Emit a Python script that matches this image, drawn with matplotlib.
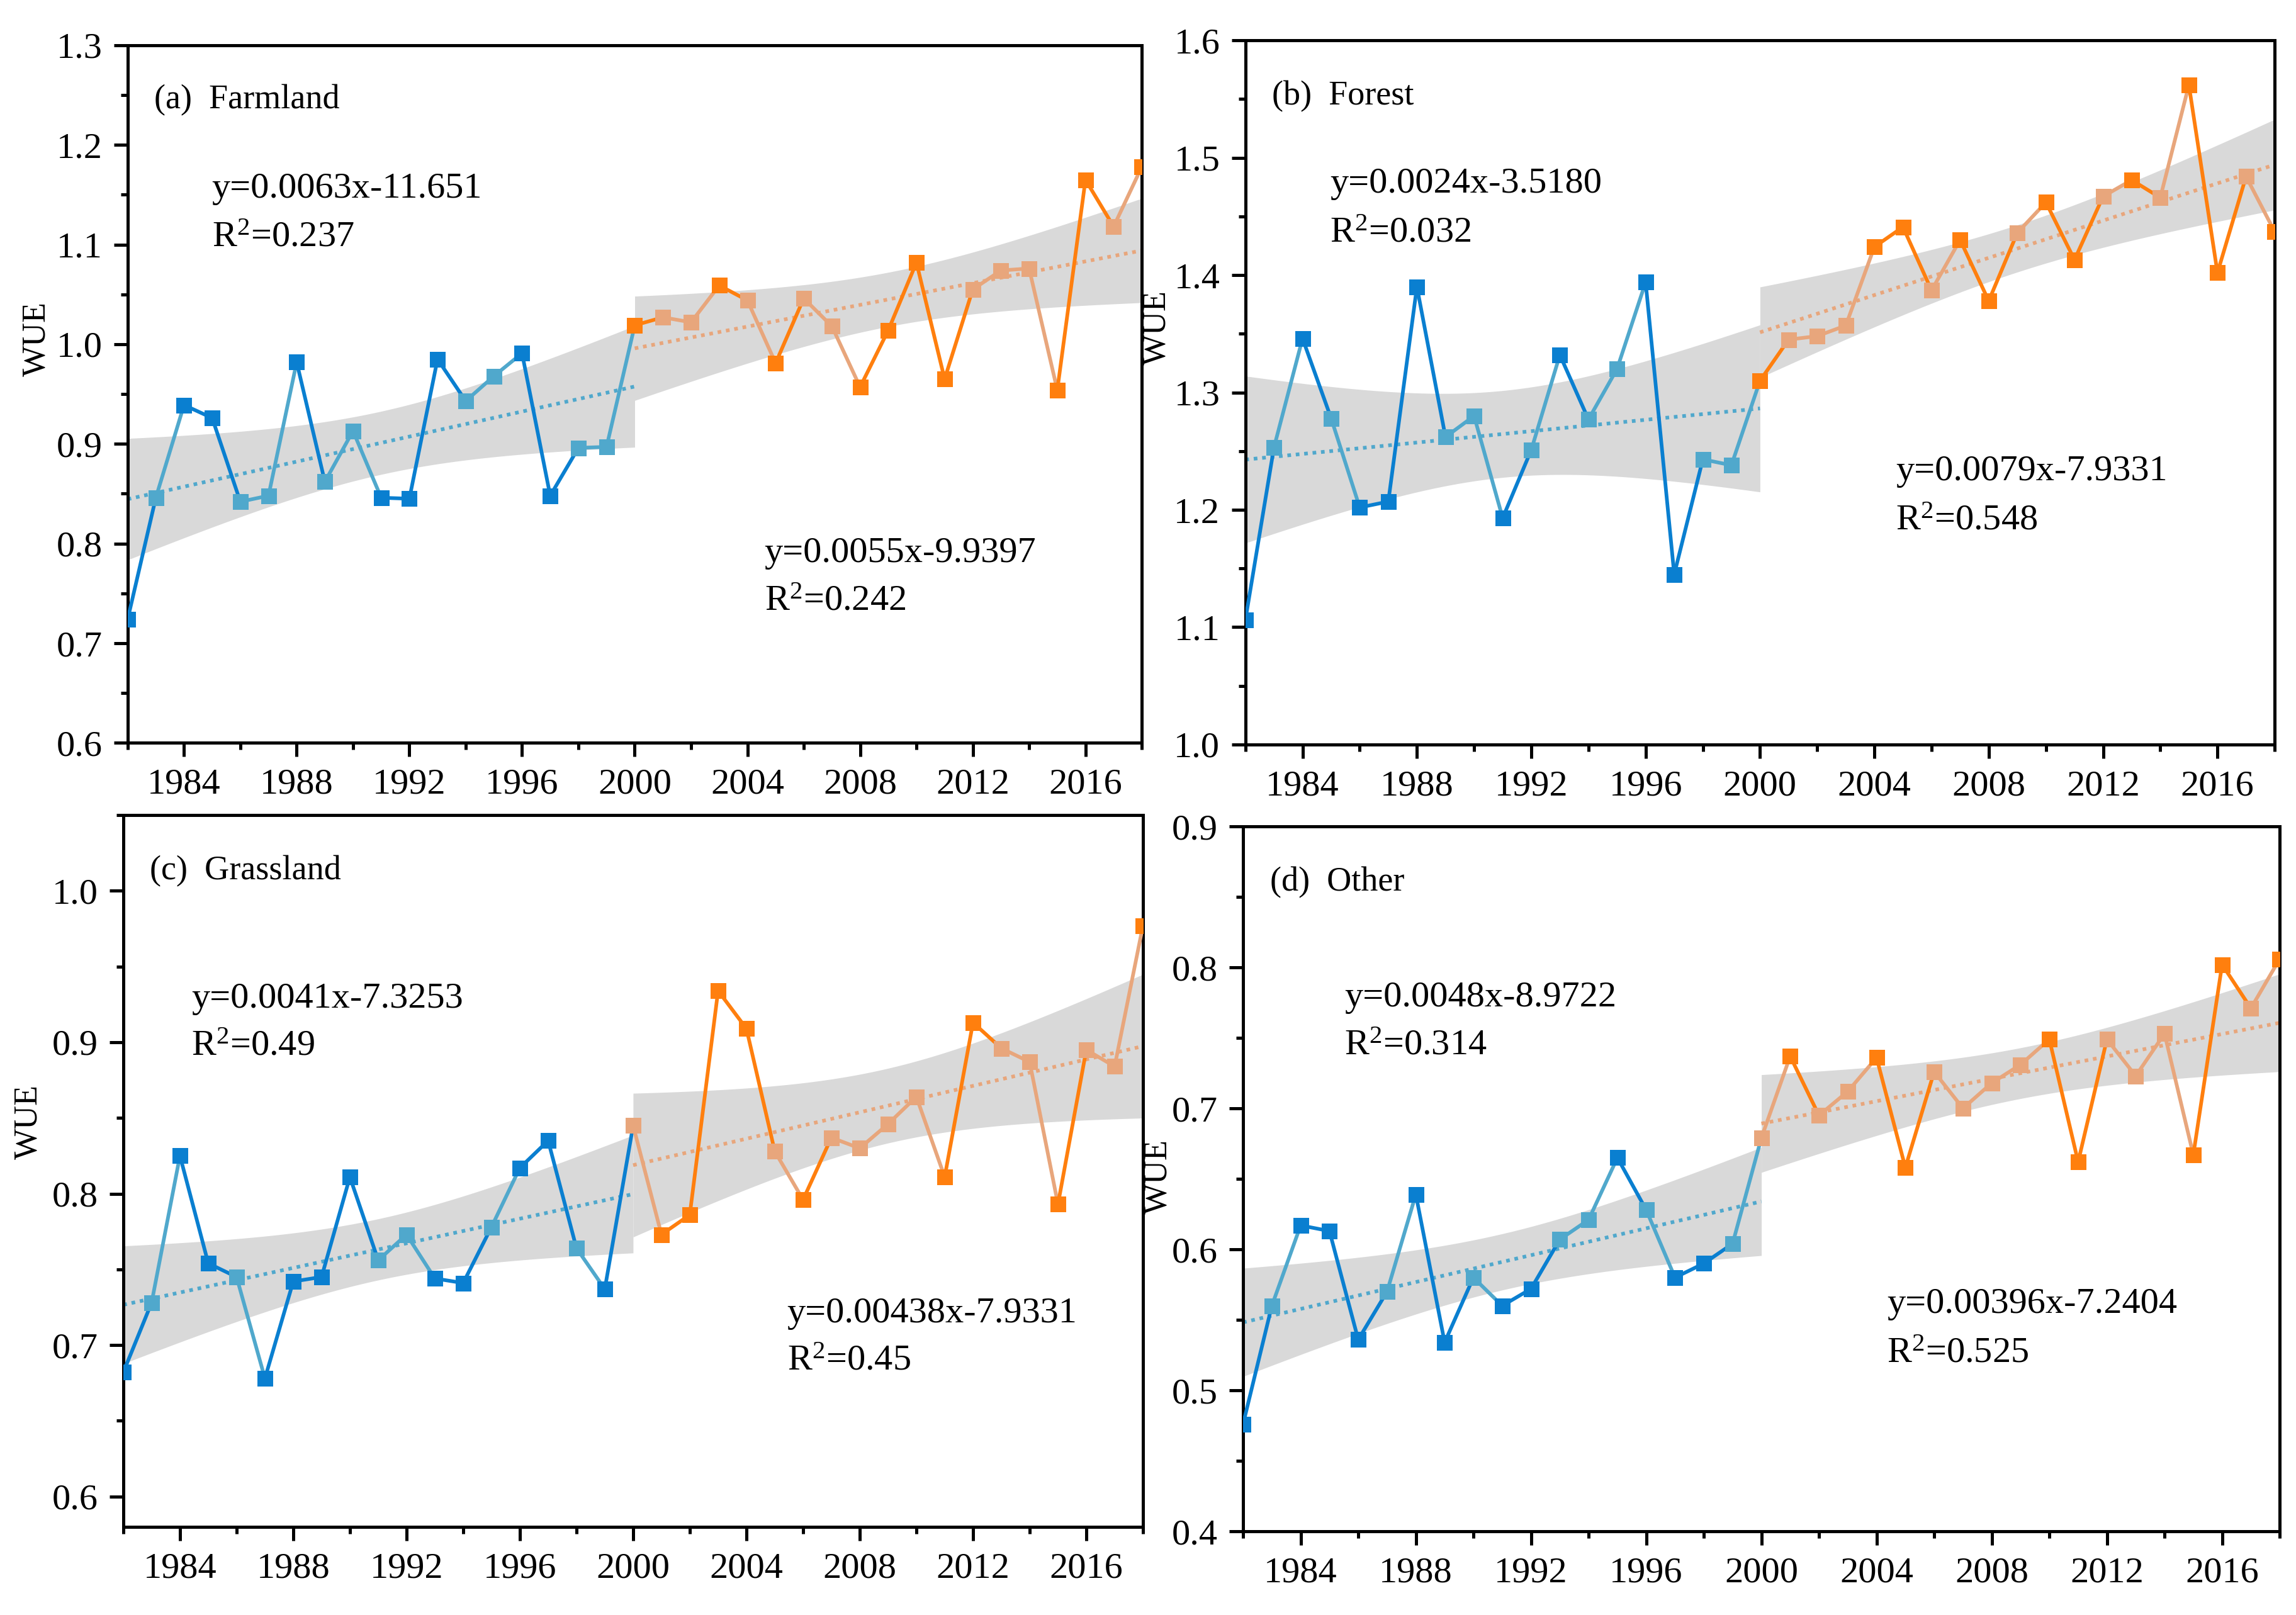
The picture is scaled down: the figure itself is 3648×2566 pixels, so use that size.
import numpy as np
import matplotlib.pyplot as plt
from matplotlib.ticker import MultipleLocator

plt.rcParams['font.family'] = ['Liberation Serif', 'DejaVu Serif']
plt.rcParams['mathtext.fontset'] = 'custom'
plt.rcParams['mathtext.rm'] = 'Liberation Serif'
plt.rcParams['mathtext.it'] = 'Liberation Serif:italic'

years = list(range(1982, 2019))

# WUE per land type, 1982-2018
farm = [0.724, 0.846, 0.939, 0.926, 0.842, 0.848, 0.982, 0.862, 0.913, 0.846,
        0.845, 0.985, 0.943, 0.968, 0.991, 0.848, 0.896, 0.897, 1.019, 1.027,
        1.022, 1.059, 1.044, 0.981, 1.046, 1.018, 0.957, 1.014, 1.082, 0.965,
        1.055, 1.074, 1.076, 0.954, 1.165, 1.118, 1.178]
forest = [1.106, 1.253, 1.346, 1.278, 1.202, 1.207, 1.390, 1.262, 1.280, 1.193,
          1.251, 1.332, 1.277, 1.320, 1.394, 1.145, 1.243, 1.238, 1.310, 1.345,
          1.348, 1.357, 1.424, 1.441, 1.387, 1.430, 1.378, 1.436, 1.462, 1.413,
          1.467, 1.481, 1.466, 1.562, 1.402, 1.484, 1.437]
grass = [0.682, 0.728, 0.825, 0.754, 0.745, 0.678, 0.742, 0.745, 0.811, 0.756,
         0.773, 0.744, 0.741, 0.778, 0.817, 0.835, 0.764, 0.737, 0.845, 0.773,
         0.786, 0.934, 0.909, 0.828, 0.796, 0.837, 0.830, 0.846, 0.864, 0.811,
         0.913, 0.896, 0.887, 0.793, 0.895, 0.884, 0.977]
other = [0.476, 0.560, 0.617, 0.613, 0.536, 0.570, 0.639, 0.534, 0.580, 0.560,
         0.572, 0.607, 0.621, 0.665, 0.628, 0.580, 0.590, 0.604, 0.679, 0.737,
         0.695, 0.712, 0.736, 0.658, 0.726, 0.700, 0.718, 0.731, 0.749, 0.662,
         0.749, 0.723, 0.753, 0.667, 0.802, 0.771, 0.806]

# marker tone per year: d = dark, l = light
farm_tone = "dlddlldlldddllddll" + "dlldldllddddlllddld"
forest_tone = "dldldddlldldllddll" + "dlllddlddlddldlddld"
grass_tone = "dlddlddddllddlddld" + "lddddldllllddlldlld"
other_tone = "dldddlddlddlldlddl" + "ldllddllllddlllddld"

titles = ["(a)  Farmland", "(b)  Forest", "(c)  Grassland", "(d)  Other"]
eq1 = ["y=0.0063x-11.651", "y=0.0024x-3.5180", "y=0.0041x-7.3253", "y=0.0048x-8.9722"]
r1 = ["0.237", "0.032", "0.49", "0.314"]
eq2 = ["y=0.0055x-9.9397", "y=0.0079x-7.9331", "y=0.00438x-7.9331", "y=0.00396x-7.2404"]
r2 = ["0.242", "0.548", "0.45", "0.525"]
ylims = [(0.6, 1.3), (1.0, 1.6), (0.58, 1.05), (0.4, 0.9)]

boxes = [[0.0556, 0.540, 0.4417, 0.432],
         [0.5424, 0.539, 0.4483, 0.436],
         [0.0537, 0.0546, 0.4441, 0.4407],
         [0.5414, 0.0518, 0.4515, 0.4365]]
eq1_pos = [(0.083, 0.794, 0.724), (0.082, 0.796, 0.726), (0.067, 0.742, 0.675), (0.098, 0.757, 0.689)]
eq2_pos = [(0.628, 0.272, 0.203), (0.632, 0.388, 0.318), (0.651, 0.300, 0.233), (0.621, 0.322, 0.252)]
lab_pos = [(-0.075, 0.579), (-0.071, 0.592), (-0.078, 0.569), (-0.067, 0.503)]

blue_d, blue_l = '#0A7FD0', '#50A8CC'
orng_d, orng_l = '#FF7F0E', '#E8A67C'
band = '#D9D9D9'
T95 = 2.11  # t value, df = 17


def fit_band(ax, x, y, col):
    x = np.array(x, float)
    y = np.array(y, float)
    k, b = np.polyfit(x, y, 1)
    n = len(x)
    res = y - (k * x + b)
    s = np.sqrt(np.sum(res ** 2) / (n - 2))
    sxx = np.sum((x - x.mean()) ** 2)
    xx = np.linspace(x.min(), x.max(), 200)
    yy = k * xx + b
    se = s * np.sqrt(1.0 / n + (xx - x.mean()) ** 2 / sxx)
    ax.fill_between(xx, yy - T95 * se, yy + T95 * se, color=band, lw=0, zorder=1)
    ax.plot(xx, yy, ls=(0, (1, 1.3)), color=col, lw=1.4, zorder=2)


series = [farm, forest, grass, other]
tones = [farm_tone, forest_tone, grass_tone, other_tone]

fig = plt.figure(figsize=(3648 / 300, 2566 / 300))

for i in range(4):
    ax = fig.add_axes(boxes[i])
    y = series[i]
    tone = tones[i]

    p1 = [j for j, yr in enumerate(years) if yr <= 2000]
    p2 = [j for j, yr in enumerate(years) if yr >= 2000]
    fit_band(ax, [years[j] for j in p1], [y[j] for j in p1], blue_l)
    fit_band(ax, [years[j] for j in p2], [y[j] for j in p2], orng_l)

    for j in range(len(years) - 1):
        if years[j + 1] <= 2000:
            c = blue_d if tone[j] == 'd' else blue_l
        else:
            c = orng_d if tone[j] == 'd' else orng_l
        ax.plot(years[j:j + 2], y[j:j + 2], color=c, lw=1.4, zorder=3)

    cols = []
    for j, yr in enumerate(years):
        if yr < 2000:
            cols.append(blue_d if tone[j] == 'd' else blue_l)
        else:
            cols.append(orng_d if tone[j] == 'd' else orng_l)
    for j, yr in enumerate(years):
        ax.plot(yr, y[j], 's', ms=6.0, color=cols[j], mec='none', zorder=4)

    ax.set_xlim(1982, 2018)
    ax.set_ylim(*ylims[i])
    ax.xaxis.set_major_locator(MultipleLocator(4))
    ax.xaxis.set_minor_locator(MultipleLocator(2))
    ax.yaxis.set_major_locator(MultipleLocator(0.1))
    ax.yaxis.set_minor_locator(MultipleLocator(0.05))
    ax.tick_params(which='major', direction='out', length=5.2, width=1.2,
                   labelsize=14, pad=4.5)
    ax.tick_params(which='minor', direction='out', length=2.7, width=1.2)
    for sp in ax.spines.values():
        sp.set_linewidth(1.2)

    ax.set_ylabel('WUE', fontsize=12.5)
    ax.yaxis.set_label_coords(*lab_pos[i])

    ax.text(0.026, 0.921, titles[i], transform=ax.transAxes, fontsize=13,
            va='center', ha='left')
    x1, ya, yb = eq1_pos[i]
    ax.text(x1, ya, eq1[i], transform=ax.transAxes, fontsize=14, va='center', ha='left')
    ax.text(x1, yb, 'R$^{2}$=' + r1[i], transform=ax.transAxes, fontsize=14,
            va='center', ha='left')
    x2, ya, yb = eq2_pos[i]
    ax.text(x2, ya, eq2[i], transform=ax.transAxes, fontsize=14, va='center', ha='left')
    ax.text(x2, yb, 'R$^{2}$=' + r2[i], transform=ax.transAxes, fontsize=14,
            va='center', ha='left')

fig.savefig('out.png', dpi=300)
